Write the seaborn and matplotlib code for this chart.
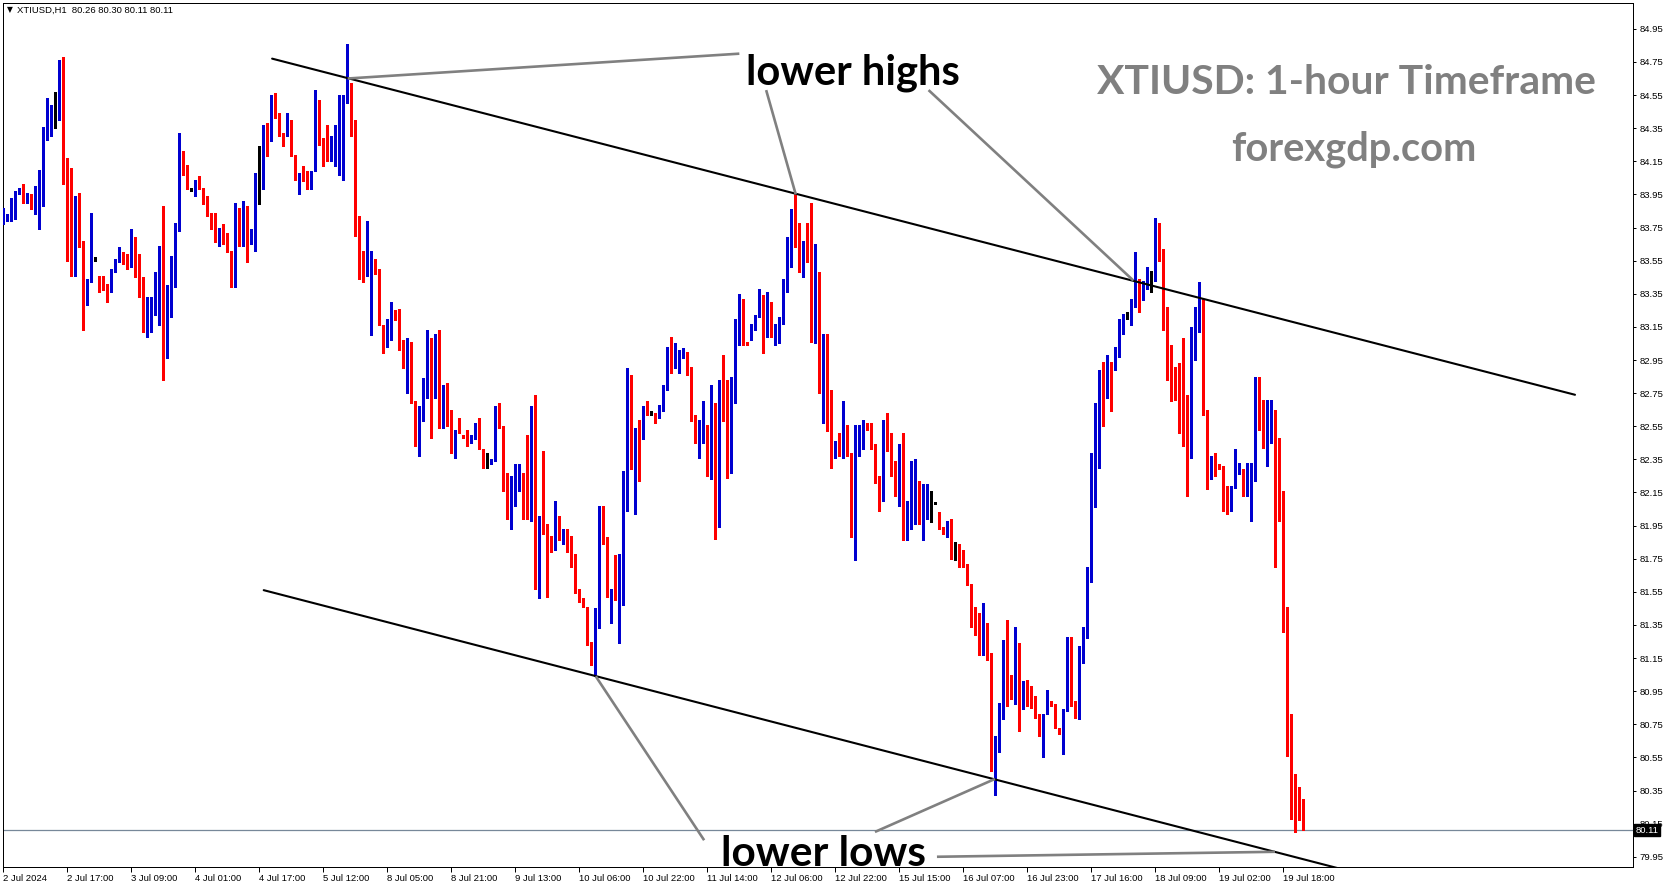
import numpy as np
import pandas as pd
import matplotlib
matplotlib.use("Agg")
import matplotlib.pyplot as plt
import matplotlib.transforms as mtransforms
import seaborn as sns

# hourly OHLC bars (bar 0 = 2 Jul 2024 00:00)
opens = [
    83.78, 83.80, 83.80, 83.85, 83.95, 83.98, 83.92, 83.93, 83.92, 83.94,
    84.06, 84.28, 84.36, 84.47, 84.48, 84.70, 84.16, 83.59, 83.54, 83.83,
    83.66, 83.30, 83.43, 83.56, 83.46, 83.44, 83.41, 83.37, 83.48, 83.54,
    83.59, 83.57, 83.51, 83.67, 83.51, 83.35, 83.21, 83.24, 83.22, 83.50,
    83.54, 82.97, 83.39, 83.57, 83.74, 84.13, 84.12, 83.98, 83.94, 84.03,
    83.99, 83.93, 83.84, 83.78, 83.67, 83.74, 83.69, 83.61, 83.39, 83.81,
    83.70, 83.88, 83.69, 83.70, 84.06, 84.07, 84.30, 84.28, 84.52, 84.44,
    84.32, 84.30, 84.35, 84.19, 84.03, 84.06, 84.05, 84.04, 84.09, 84.43,
    84.29, 84.17, 84.17, 84.30, 84.32, 84.44, 84.52, 84.58, 84.33, 83.74,
    83.61, 83.46, 83.46, 83.49, 83.49, 83.16, 83.04, 83.07, 83.23, 83.21,
    83.03, 82.89, 83.01, 82.69, 82.47, 82.58, 82.74, 82.97, 82.86, 82.97,
    82.56, 82.81, 82.65, 82.40, 82.54, 82.50, 82.51, 82.45, 82.50, 82.54,
    82.41, 82.33, 82.32, 82.35, 82.65, 82.55, 82.20, 82.04, 82.16, 82.17,
    82.26, 82.17, 82.00, 82.63, 81.87, 82.01, 81.96, 81.89, 81.83, 82.01,
    81.86, 81.93, 81.89, 81.74, 81.57, 81.51, 81.46, 81.25, 81.19, 81.44,
    81.96, 81.88, 81.54, 81.55, 81.50, 81.58, 82.04, 82.85, 82.33, 82.53,
    82.49, 82.66, 82.63, 82.62, 82.60, 82.69, 82.77, 83.01, 82.95, 82.95,
    82.98, 83.00, 82.90, 82.61, 82.45, 82.46, 82.56, 82.30, 82.57, 82.22,
    82.80, 82.75, 82.27, 82.82, 83.19, 83.30, 83.06, 83.11, 83.16, 83.21,
    83.29, 83.12, 83.30, 83.12, 83.16, 83.19, 83.40, 83.60, 83.85, 83.78,
    83.51, 83.65, 83.60, 83.21, 83.31, 82.92, 83.09, 82.77, 82.39, 82.45,
    82.36, 82.48, 82.39, 81.89, 82.48, 82.51, 82.55, 82.53, 82.44, 82.25,
    82.11, 82.53, 82.42, 82.27, 82.19, 82.38, 81.96, 81.99, 82.03, 82.13,
    81.96, 82.04, 82.10, 82.08, 82.01, 81.94, 81.91, 81.95, 81.80, 81.80,
    81.75, 81.72, 81.60, 81.46, 81.42, 81.28, 81.33, 81.18, 80.46, 80.58,
    80.78, 81.24, 81.05, 80.95, 81.16, 80.90, 80.98, 80.92, 80.92, 80.81,
    80.75, 80.81, 80.88, 80.87, 80.73, 80.71, 80.83, 81.22, 80.89, 80.86,
    81.21, 81.33, 81.66, 82.33, 82.59, 82.89, 82.86, 82.93, 82.90, 82.98,
    83.16, 83.23, 83.21, 83.30, 83.44, 83.36, 83.39, 83.44, 83.45, 83.77,
    83.62, 83.23, 82.99, 82.91, 82.77, 82.56, 82.45, 82.45, 83.04, 83.25,
    83.31, 82.65, 82.24, 82.39, 82.32, 82.31, 82.19, 82.08, 82.18, 82.28,
    82.29, 82.16, 82.21, 82.30, 82.84, 82.67, 82.43, 82.59, 82.65, 82.43,
    82.02, 81.42, 80.59, 80.36, 80.29, 80.26,
]
highs = [
    83.87, 83.83, 83.93, 83.97, 83.99, 84.01, 83.96, 83.95, 84.00, 84.10,
    84.36, 84.53, 84.49, 84.57, 84.76, 84.78, 84.17, 84.11, 83.94, 83.96,
    83.67, 83.44, 83.84, 83.57, 83.46, 83.46, 83.41, 83.50, 83.56, 83.63,
    83.60, 83.59, 83.74, 83.69, 83.59, 83.45, 83.33, 83.33, 83.48, 83.64,
    83.88, 83.40, 83.58, 83.78, 84.32, 84.21, 84.13, 83.99, 84.04, 84.06,
    83.99, 83.94, 83.84, 83.84, 83.75, 83.77, 83.72, 83.61, 83.90, 83.87,
    83.91, 83.88, 83.74, 84.08, 84.24, 84.37, 84.38, 84.55, 84.56, 84.44,
    84.32, 84.44, 84.40, 84.19, 84.08, 84.12, 84.09, 84.09, 84.58, 84.52,
    84.29, 84.37, 84.30, 84.37, 84.55, 84.55, 84.86, 84.62, 84.40, 83.82,
    83.61, 83.79, 83.61, 83.56, 83.50, 83.16, 83.20, 83.30, 83.25, 83.26,
    83.07, 83.08, 83.06, 82.70, 82.67, 82.84, 83.13, 83.08, 83.11, 83.13,
    82.80, 82.81, 82.65, 82.53, 82.60, 82.50, 82.53, 82.50, 82.57, 82.60,
    82.41, 82.39, 82.35, 82.67, 82.69, 82.55, 82.27, 82.25, 82.32, 82.32,
    82.27, 82.50, 82.67, 82.74, 82.01, 82.40, 81.96, 81.89, 82.10, 82.01,
    81.93, 81.93, 81.89, 81.78, 81.57, 81.51, 81.46, 81.25, 81.45, 82.07,
    82.07, 81.88, 81.57, 81.77, 81.78, 82.28, 82.90, 82.86, 82.54, 82.59,
    82.67, 82.70, 82.64, 82.63, 82.68, 82.80, 83.03, 83.09, 83.05, 83.01,
    83.02, 83.00, 82.91, 82.62, 82.59, 82.70, 82.56, 82.80, 82.69, 82.83,
    82.98, 82.83, 82.85, 83.20, 83.35, 83.32, 83.06, 83.17, 83.22, 83.38,
    83.34, 83.36, 83.30, 83.17, 83.21, 83.44, 83.69, 83.86, 83.95, 83.78,
    83.67, 83.78, 83.90, 83.65, 83.48, 83.11, 83.11, 82.77, 82.46, 82.51,
    82.70, 82.56, 82.39, 82.56, 82.56, 82.59, 82.57, 82.57, 82.44, 82.25,
    82.59, 82.63, 82.51, 82.34, 82.44, 82.51, 82.10, 82.34, 82.35, 82.22,
    82.20, 82.20, 82.16, 82.09, 82.03, 81.94, 81.98, 81.99, 81.85, 81.84,
    81.80, 81.72, 81.60, 81.46, 81.42, 81.48, 81.36, 81.18, 80.68, 80.88,
    81.26, 81.38, 81.05, 81.34, 81.24, 81.01, 81.02, 80.98, 80.92, 80.81,
    80.81, 80.96, 80.89, 80.87, 80.73, 80.84, 81.28, 81.28, 80.89, 81.22,
    81.34, 81.70, 82.39, 82.69, 82.89, 82.94, 82.98, 82.94, 83.03, 83.20,
    83.23, 83.24, 83.32, 83.60, 83.44, 83.43, 83.51, 83.49, 83.81, 83.78,
    83.62, 83.27, 83.04, 82.91, 82.93, 83.08, 82.74, 83.15, 83.27, 83.42,
    83.32, 82.65, 82.37, 82.39, 82.32, 82.31, 82.19, 82.19, 82.41, 82.33,
    82.29, 82.33, 82.33, 82.85, 82.85, 82.71, 82.71, 82.71, 82.65, 82.48,
    82.16, 81.46, 80.81, 80.45, 80.37, 80.30,
]
lows = [
    83.77, 83.79, 83.79, 83.80, 83.95, 83.90, 83.90, 83.86, 83.83, 83.74,
    83.88, 84.28, 84.30, 84.35, 84.40, 84.01, 83.55, 83.46, 83.46, 83.63,
    83.13, 83.28, 83.42, 83.55, 83.36, 83.37, 83.30, 83.36, 83.48, 83.54,
    83.53, 83.50, 83.51, 83.45, 83.33, 83.12, 83.09, 83.12, 83.22, 83.16,
    82.83, 82.96, 83.21, 83.39, 83.73, 84.07, 83.98, 83.97, 83.94, 83.98,
    83.89, 83.82, 83.74, 83.66, 83.64, 83.65, 83.60, 83.39, 83.39, 83.64,
    83.64, 83.54, 83.65, 83.61, 83.89, 83.98, 84.18, 84.27, 84.41, 84.30,
    84.24, 84.30, 84.18, 84.04, 83.95, 84.03, 83.98, 83.98, 84.09, 84.25,
    84.12, 84.15, 84.15, 84.12, 84.07, 84.04, 84.50, 84.30, 83.70, 83.44,
    83.42, 83.46, 83.10, 83.47, 83.16, 82.99, 83.03, 83.07, 83.19, 83.01,
    82.90, 82.75, 82.69, 82.43, 82.37, 82.58, 82.72, 82.48, 82.72, 82.54,
    82.54, 82.55, 82.39, 82.36, 82.51, 82.48, 82.43, 82.45, 82.47, 82.41,
    82.30, 82.30, 82.32, 82.34, 82.54, 82.16, 81.99, 81.93, 82.07, 82.16,
    81.99, 81.99, 81.98, 81.57, 81.51, 81.90, 81.52, 81.79, 81.80, 81.86,
    81.84, 81.79, 81.70, 81.54, 81.49, 81.46, 81.23, 81.11, 81.04, 81.33,
    81.84, 81.52, 81.36, 81.50, 81.24, 81.47, 82.04, 82.29, 82.02, 82.22,
    82.47, 82.62, 82.62, 82.57, 82.60, 82.64, 82.77, 82.87, 82.90, 82.87,
    82.96, 82.86, 82.58, 82.45, 82.36, 82.45, 82.25, 82.23, 81.87, 81.94,
    82.58, 82.24, 82.27, 82.69, 83.04, 83.04, 83.04, 83.07, 83.13, 83.21,
    82.99, 83.09, 83.09, 83.04, 83.05, 83.17, 83.36, 83.51, 83.63, 83.48,
    83.45, 83.54, 83.06, 83.05, 82.75, 82.57, 82.52, 82.30, 82.36, 82.37,
    82.36, 82.37, 81.88, 81.74, 82.37, 82.41, 82.53, 82.41, 82.21, 82.04,
    82.10, 82.40, 82.25, 82.13, 82.07, 81.86, 81.86, 81.93, 81.96, 81.96,
    81.86, 81.99, 81.97, 82.08, 81.93, 81.90, 81.88, 81.75, 81.74, 81.70,
    81.70, 81.59, 81.34, 81.29, 81.17, 81.17, 81.14, 80.47, 80.32, 80.58,
    80.78, 80.86, 80.90, 80.87, 80.71, 80.84, 80.86, 80.85, 80.79, 80.68,
    80.55, 80.81, 80.86, 80.73, 80.69, 80.57, 80.83, 80.86, 80.79, 80.78,
    81.12, 81.27, 81.61, 82.06, 82.30, 82.55, 82.72, 82.64, 82.89, 82.97,
    83.11, 83.20, 83.16, 83.27, 83.24, 83.31, 83.38, 83.36, 83.43, 83.55,
    83.13, 82.83, 82.70, 82.71, 82.51, 82.43, 82.13, 82.36, 82.95, 83.12,
    82.62, 82.17, 82.23, 82.25, 82.29, 82.04, 82.02, 82.04, 82.18, 82.26,
    82.13, 82.13, 81.98, 82.22, 82.53, 82.42, 82.31, 82.45, 81.70, 81.98,
    81.31, 80.56, 80.18, 80.10, 80.17, 80.11,
]
closes = [
    83.86, 83.82, 83.84, 83.95, 83.98, 83.92, 83.94, 83.91, 83.93, 84.08,
    84.30, 84.36, 84.48, 84.47, 84.71, 84.18, 83.57, 83.54, 83.83, 83.64,
    83.31, 83.44, 83.57, 83.56, 83.42, 83.39, 83.39, 83.50, 83.54, 83.60,
    83.57, 83.51, 83.68, 83.48, 83.34, 83.22, 83.22, 83.25, 83.48, 83.52,
    82.95, 83.40, 83.58, 83.76, 84.13, 84.12, 83.98, 83.98, 84.04, 83.98,
    83.92, 83.85, 83.78, 83.68, 83.75, 83.67, 83.60, 83.39, 83.80, 83.71,
    83.87, 83.70, 83.70, 84.07, 84.06, 84.31, 84.28, 84.52, 84.42, 84.32,
    84.27, 84.36, 84.19, 84.04, 84.05, 84.04, 84.03, 84.09, 84.41, 84.27,
    84.18, 84.15, 84.28, 84.34, 84.45, 84.51, 84.58, 84.34, 83.74, 83.61,
    83.47, 83.79, 83.50, 83.48, 83.16, 83.04, 83.09, 83.23, 83.20, 83.04,
    82.90, 82.99, 82.69, 82.45, 82.57, 82.76, 82.97, 82.86, 82.96, 82.58,
    82.80, 82.63, 82.41, 82.53, 82.52, 82.48, 82.45, 82.50, 82.54, 82.41,
    82.32, 82.33, 82.35, 82.66, 82.54, 82.17, 82.03, 82.18, 82.18, 82.25,
    82.16, 82.01, 82.60, 81.85, 82.01, 81.94, 81.87, 81.84, 82.07, 81.87,
    81.92, 81.92, 81.72, 81.57, 81.52, 81.46, 81.24, 81.18, 81.43, 81.95,
    81.88, 81.53, 81.57, 81.50, 81.59, 82.06, 82.83, 82.31, 82.51, 82.50,
    82.65, 82.64, 82.63, 82.60, 82.68, 82.77, 83.01, 82.95, 82.98, 83.01,
    83.01, 82.86, 82.59, 82.46, 82.47, 82.57, 82.30, 82.57, 82.17, 82.80,
    82.75, 82.29, 82.83, 83.20, 83.31, 83.07, 83.04, 83.15, 83.22, 83.29,
    83.12, 83.30, 83.13, 83.17, 83.19, 83.42, 83.61, 83.84, 83.78, 83.51,
    83.66, 83.61, 83.19, 83.32, 82.89, 83.08, 82.75, 82.39, 82.44, 82.39,
    82.51, 82.37, 81.88, 82.49, 82.51, 82.53, 82.54, 82.45, 82.25, 82.11,
    82.53, 82.42, 82.25, 82.17, 82.41, 81.97, 81.99, 82.03, 82.14, 81.96,
    82.03, 82.10, 82.10, 82.08, 81.94, 81.90, 81.95, 81.81, 81.80, 81.75,
    81.72, 81.60, 81.45, 81.40, 81.28, 81.33, 81.18, 80.47, 80.55, 80.78,
    81.22, 81.05, 80.95, 81.16, 80.90, 80.98, 80.92, 80.90, 80.80, 80.74,
    80.81, 80.88, 80.87, 80.74, 80.72, 80.82, 81.22, 80.89, 80.87, 81.22,
    81.34, 81.69, 82.35, 82.59, 82.88, 82.87, 82.94, 82.92, 82.99, 83.19,
    83.22, 83.23, 83.30, 83.45, 83.35, 83.42, 83.43, 83.44, 83.77, 83.60,
    83.24, 82.98, 82.91, 82.77, 82.56, 82.45, 82.43, 83.04, 83.27, 83.32,
    82.63, 82.22, 82.37, 82.30, 82.30, 82.19, 82.09, 82.19, 82.30, 82.30,
    82.16, 82.22, 82.29, 82.83, 82.68, 82.43, 82.60, 82.66, 82.43, 82.03,
    81.42, 80.60, 80.33, 80.28, 80.26, 80.11,
]

# time axis labels, one every 16 bars
time_labels = ["2 Jul 2024", "2 Jul 17:00", "3 Jul 09:00", "4 Jul 01:00", "4 Jul 17:00",
               "5 Jul 12:00", "8 Jul 05:00", "8 Jul 21:00", "9 Jul 13:00", "10 Jul 06:00",
               "10 Jul 22:00", "11 Jul 14:00", "12 Jul 06:00", "12 Jul 22:00", "15 Jul 15:00",
               "16 Jul 07:00", "16 Jul 23:00", "17 Jul 16:00", "18 Jul 09:00", "19 Jul 02:00",
               "19 Jul 18:00"]
label_step = 16
price_ticks = [79.95, 80.15, 80.35, 80.55, 80.75, 80.95, 81.15, 81.35, 81.55, 81.75,
               81.95, 82.15, 82.35, 82.55, 82.75, 82.95, 83.15, 83.35, 83.55, 83.75,
               83.95, 84.15, 84.35, 84.55, 84.75, 84.95]
last_price = 80.11
header = "XTIUSD,H1  80.26 80.30 80.11 80.11"

# channel anchors (bar, price)
upper_bars, upper_prices = [67.2, 392.9], [84.77, 82.74]
lower_bars, lower_prices = [65.1, 345.0], [81.56, 79.81]
# pointer lines from the labels to the touches: (bar0, price0, bar1, price1)
high_pointers = [(86.1, 84.65, 184.0, 84.80),
                 (190.7, 84.58, 198.1, 83.95),
                 (231.3, 84.58, 282.5, 83.43)]
low_pointers = [(175.2, 80.05, 148.1, 81.04),
                (217.9, 80.10, 247.9, 80.42),
                (233.4, 79.95, 317.9, 79.98)]

sns.set_theme(style="white")
plt.rcParams['font.family'] = ['Liberation Sans', 'DejaVu Sans']
plt.rcParams.update({'text.color': 'black', 'xtick.color': 'black', 'ytick.color': 'black',
                     'axes.edgecolor': 'black', 'axes.linewidth': 0.72})

df = pd.DataFrame({'open': opens, 'high': highs, 'low': lows, 'close': closes})
df['bar'] = np.arange(len(df))
df['color'] = np.where(df.close > df.open, '#0000D0',
                       np.where(df.close < df.open, '#FF0000', '#000000'))

W, H = 1673, 888
fig = plt.figure(figsize=(W / 100, H / 100), dpi=100)
ax = fig.add_axes([2.7 / W, (H - 866.7) / H, (1633 - 2.7) / W, (866.7 - 2.5) / H])
ax.set_facecolor('white')

# wicks and bodies
ax.vlines(df.bar, np.minimum(df.low, df[['open', 'close']].min(axis=1)),
          np.maximum(df.high, df[['open', 'close']].max(axis=1)),
          colors=df.color, linewidth=0.9, antialiased=False, zorder=3)
body_h = (df.close - df.open).abs().clip(lower=0.007)
body_b = np.minimum(df.open, df.close) - np.where(df.close == df.open, 0.0035, 0)
ax.bar(df.bar, body_h, bottom=body_b, width=0.8, color=df.color,
       linewidth=0, antialiased=False, zorder=4)

# current price line
ax.axhline(last_price, color='#778899', linewidth=0.9, zorder=2)

# trend channel
ax.plot(upper_bars, upper_prices, color='black', linewidth=1.5, zorder=5)
ax.plot(lower_bars, lower_prices, color='black', linewidth=1.5, zorder=5)
for b0, p0, b1, p1 in high_pointers + low_pointers:
    ax.plot([b0, b1], [p0, p1], color='#808080', linewidth=1.9, zorder=6,
            solid_capstyle='butt')

ax.set_xlim(-0.15, 407.4)
ax.set_ylim(79.890, 85.109)

ax.yaxis.tick_right()
ax.set_yticks(price_ticks)
ax.set_yticklabels([f"{p:.2f}" for p in price_ticks])
ax.tick_params(axis='y', right=True, left=False, direction='out', length=2.5,
               width=0.72, pad=2, labelsize=6.8)
ax.set_xticks(np.arange(len(time_labels)) * label_step)
ax.set_xticklabels(time_labels, ha='left')
ax.tick_params(axis='x', bottom=True, direction='out', length=3.5, width=0.72,
               pad=1.5, labelsize=6.8)
for s in ax.spines.values():
    s.set_visible(True)
    s.set_color('black')
    s.set_linewidth(0.72)

# last price tag
trans = mtransforms.blended_transform_factory(ax.transAxes, ax.transData)
ax.text(1.0016, last_price, "80.11", transform=trans, ha='left', va='center',
        fontsize=6.8, color='white', zorder=10, clip_on=False,
        bbox=dict(boxstyle='square,pad=0.15', facecolor='black', edgecolor='black'))

renderer = fig.canvas.get_renderer()


def fit_text(x, y, s, width_px, **kw):
    t = ax.text(x, y, s, fontsize=20, **kw)
    w = t.get_window_extent(renderer).width
    t.set_fontsize(20 * width_px / w)
    return t


big = dict(family=['Lato', 'DejaVu Sans'], fontweight='bold', ha='center',
           va='baseline', zorder=8)
fit_text(212.4, 84.615, "lower highs", 214, color='black', **big)
fit_text(205.0, 79.893, "lower lows", 205, color='black', clip_on=False, **big)
fit_text(335.8, 84.557, "XTIUSD: 1-hour Timeframe", 499, color='#808080', **big)
fit_text(337.5, 84.157, "forexgdp.com", 246, color='#808080', **big)

fig.text(7 / W, 1 - 10 / H, "▼", fontsize=5.5, va='center', ha='left',
         family=['DejaVu Sans'])
fig.text(17.3 / W, 1 - 10 / H, header, fontsize=6.8, va='center', ha='left')

fig.savefig('out.png', dpi=100)
